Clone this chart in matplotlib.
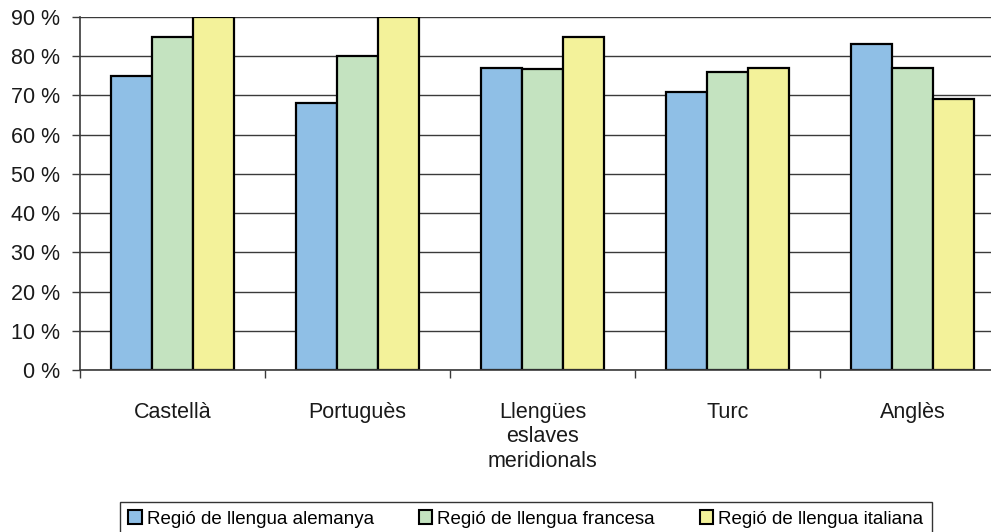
import matplotlib
matplotlib.use("Agg")
import matplotlib.pyplot as plt
from matplotlib.patches import Patch
import numpy as np

plt.rcParams['font.family'] = ['Liberation Sans', 'DejaVu Sans']

# Data
categories = ["Castellà", "Portuguès", "Llengües\neslaves\nmeridionals", "Turc", "Anglès"]
series_names = ["Regió de llengua alemanya", "Regió de llengua francesa", "Regió de llengua italiana"]
alemanya = [75, 68, 77, 71, 83]
francesa = [85, 80, 76.8, 76, 77]
italiana = [90, 90, 85, 77, 69]
y_ticks = [0, 10, 20, 30, 40, 50, 60, 70, 80, 90]
y_tick_labels = [f"{v} %" for v in y_ticks]

colors = ["#8FBFE6", "#C4E3C0", "#F3F29A"]
line_col = "#3a3a3a"
text_col = "#1a1a1a"

fig = plt.figure(figsize=(9.91, 5.32), dpi=100)
ax = fig.add_axes([80 / 991, 162 / 532, 925 / 991, 353 / 532])

x = np.arange(len(categories))
w = 0.2216
for i, (vals, col) in enumerate(zip([alemanya, francesa, italiana], colors)):
    ax.bar(x + (i - 1) * w, vals, width=w, color=col, edgecolor="black",
           linewidth=1.6, zorder=3)

ax.set_xlim(-0.5, len(categories) - 0.5)
ax.set_ylim(0, 90)

# Horizontal gridlines
ax.set_yticks(y_ticks)
ax.set_yticklabels(y_tick_labels, fontsize=15.5, color=text_col)
ax.yaxis.grid(True, color=line_col, linewidth=1.0, zorder=0)
ax.tick_params(axis="y", direction="out", length=6, width=1.0, color=line_col, pad=8.5)

# Category boundaries as major ticks, names as minor tick labels
ax.set_xticks(np.arange(len(categories) + 1) - 0.5)
ax.set_xticklabels([])
ax.set_xticks(x, minor=True)
ax.set_xticklabels(categories, minor=True, fontsize=15.5, color=text_col,
                   linespacing=1.22, va="top")
ax.tick_params(axis="x", which="major", direction="out", length=6, width=1.0, color=line_col)
ax.tick_params(axis="x", which="minor", length=0, pad=23)

for side in ["top", "right"]:
    ax.spines[side].set_visible(False)
for side in ["left", "bottom"]:
    ax.spines[side].set_color(line_col)
    ax.spines[side].set_linewidth(1.2)
    ax.spines[side].set_zorder(4)

handles = [Patch(facecolor=c, edgecolor="black", linewidth=1.5) for c in colors]
leg = fig.legend(handles, series_names, loc="upper left",
                 bbox_to_anchor=(120 / 991, 1 - 502 / 532), ncol=3,
                 fontsize=13.5, frameon=True, fancybox=False, shadow=False,
                 handlelength=0.7, handleheight=0.7, handletextpad=0.27,
                 columnspacing=2.42, borderpad=0.45, borderaxespad=0)
leg.get_frame().set_edgecolor("black")
leg.get_frame().set_linewidth(1.0)

fig.savefig("out.png", dpi=100)
